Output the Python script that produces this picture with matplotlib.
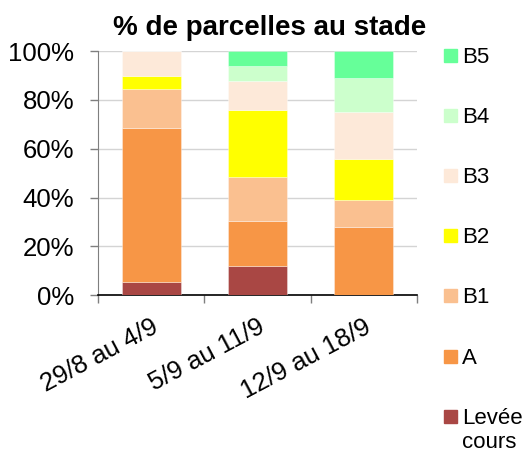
import numpy as np
import matplotlib.pyplot as plt
from matplotlib.patches import Rectangle

# semaines et % de parcelles par stade
weeks = ['29/8 au 4/9', '5/9 au 11/9', '12/9 au 18/9']
stages = ['Levée\ncours', 'A', 'B1', 'B2', 'B3', 'B4', 'B5']
levee = [5.3, 12.1, 0.0]
stade_a = [63.2, 18.2, 27.8]
b1 = [15.8, 18.2, 11.1]
b2 = [5.3, 27.3, 16.7]
b3 = [10.5, 12.1, 19.4]
b4 = [0.0, 6.1, 13.9]
b5 = [0.0, 6.1, 11.1]
colors = ['#A94744', '#F79646', '#FAC090', '#FFFF00', '#FDE9D9', '#CCFFCC', '#66FF99']


def main():
    plt.rcParams['font.family'] = ['Liberation Sans', 'DejaVu Sans']
    fig = plt.figure(figsize=(5.28, 4.5), dpi=100)
    ax = fig.add_axes([98/528, 1-295.3/450, 319/528, 244.3/450])

    series = [levee, stade_a, b1, b2, b3, b4, b5]
    x = np.arange(len(weeks))
    bottom = np.zeros(len(weeks))
    for vals, c in zip(series, colors):
        ax.bar(x, vals, 0.555, bottom=bottom, color=c, edgecolor=(1, 1, 1, 0.4),
               linewidth=0.6, zorder=3)
        bottom += np.array(vals)

    ax.set_xlim(-0.5, 2.5)
    ax.set_ylim(0, 100)
    ax.set_yticks(np.arange(0, 101, 20))
    ax.set_yticklabels(['%d%%' % v for v in range(0, 101, 20)], fontsize=18.5)
    ax.yaxis.grid(True, color='#D4D4D4', linewidth=1.0, zorder=0)
    ax.set_xticks(x)
    ax.set_xticklabels(weeks, fontsize=18.5, rotation=28, ha='right',
                       rotation_mode='anchor')
    ax.set_xticks([-0.5, 0.5, 1.5, 2.5], minor=True)
    ax.tick_params(axis='x', which='major', length=0, pad=14)
    ax.tick_params(axis='x', which='minor', length=6, color='#7F7F7F', width=1)
    ax.tick_params(axis='y', length=6, color='#7F7F7F', width=1, pad=11)
    for s in ['top', 'right']:
        ax.spines[s].set_visible(False)
    ax.spines['left'].set_color('#7F7F7F')
    ax.spines['bottom'].set_color('black')
    ax.spines['bottom'].set_linewidth(1.2)

    fig.text(270/528, 1-35/450, '% de parcelles au stade', fontsize=20,
             fontweight='bold', ha='center', va='baseline')

    # legende a droite, du haut vers le bas
    for i, (lab, c) in enumerate(zip(stages[::-1], colors[::-1])):
        yc = 55.5 + i * 60.1
        fig.patches.append(Rectangle((444/528, 1-(yc+6.5)/450), 13/528, 13/450,
                                     color=c, transform=fig.transFigure))
        fig.text(462/528, 1-(yc+7.5)/450, lab.split('\n')[0], fontsize=16,
                 ha='left', va='baseline')
        if '\n' in lab:
            fig.text(462/528, 1-(yc+32)/450, lab.split('\n')[1], fontsize=16,
                     ha='left', va='baseline')

    fig.savefig('out.png', dpi=100)


if __name__ == "__main__":
    main()
